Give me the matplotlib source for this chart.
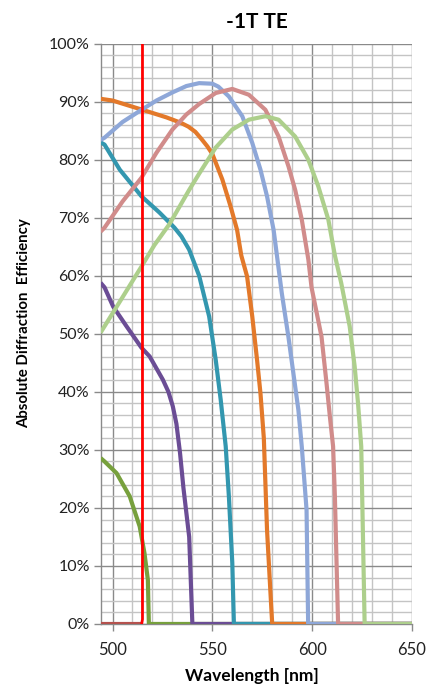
import numpy as np
import matplotlib.pyplot as plt
from matplotlib.ticker import MultipleLocator, FuncFormatter

plt.rcParams['font.family'] = ['Lato', 'DejaVu Sans']

# diffraction efficiency curves (wavelength nm, efficiency %), ordered by cutoff
green_wl = [494, 496, 502, 508.6, 513.6, 516, 517.7, 518.2, 650]
green_eff = [28.6, 28.0, 26.0, 22.0, 16.8, 12.2, 7.6, 0, 0]

purple_wl = [494, 496, 500.3, 507, 514.5, 518.6, 525.2, 528, 530.2, 532,
             533.8, 535.5, 538.4, 540, 650]
purple_eff = [58.8, 58.0, 54.7, 51.3, 47.6, 46.1, 42.1, 40.0, 37.5, 34.5,
              29.5, 23.5, 15.0, 0, 0]

teal_wl = [494, 496, 503.6, 514.5, 523.5, 531, 534.5, 538.4, 543.4, 548.4,
           551.7, 554.2, 556.7, 558.3, 560, 560.8, 650]
teal_eff = [83.0, 82.6, 78.3, 73.7, 70.9, 68.3, 66.8, 64.5, 60.0, 53.0,
            45.5, 38.6, 30.6, 21.9, 10.5, 0, 0]

orange_wl = [494, 500, 515, 527, 534, 538, 541.5, 544.5, 547.5, 550, 555,
             559.1, 562.4, 564.5, 567.4, 570, 572.4, 574.1, 575.8, 577.4,
             579.5, 580, 650]
orange_eff = [90.5, 90.2, 88.6, 87.3, 86.4, 85.7, 84.8, 83.6, 82.3, 81.0, 76.6,
              72.0, 67.9, 63.5, 59.9, 53.0, 45.5, 39.8, 32.0, 16.2, 3.0, 0, 0]

blue_wl = [494, 496, 505, 514.5, 522, 530, 537, 543.4, 550, 553, 558.3, 565,
           570, 574.1, 577.4, 580.7, 584.8, 588.1, 590.6, 593.1, 594.8, 597.2,
           598, 650]
blue_eff = [83.4, 83.8, 86.5, 88.6, 90.2, 91.6, 92.7, 93.2, 93.1, 92.6, 90.9,
            87.5, 82.9, 78.3, 73.7, 67.9, 57.0, 49.5, 43.2, 36.9, 30.6, 19.7,
            0, 0]

pink_wl = [494, 496, 505, 514.5, 522, 530, 537, 543.4, 551.7, 560, 568.3,
           576.6, 583.2, 588.2, 591.5, 594.8, 598.1, 599.7, 604.7, 607.2,
           608.9, 610.5, 611.4, 613, 650]
pink_eff = [67.6, 68.3, 72.8, 76.9, 81.2, 85.2, 87.8, 89.6, 91.5, 92.2, 91.2,
            88.6, 84.0, 78.8, 74.8, 69.7, 62.8, 58.0, 49.5, 41.5, 35.7, 30.6,
            21.9, 0, 0]

lgreen_wl = [494, 496, 505, 514.5, 521, 528.5, 538.4, 543.4, 551.7, 560,
             568.3, 576.6, 583.2, 591.5, 598.1, 603.1, 608.1, 611.4, 614.6,
             618.8, 621.3, 623, 624.6, 625.4, 626.3, 650]
lgreen_eff = [50.2, 51.3, 56.3, 61.6, 65.3, 68.9, 74.8, 77.6, 82.1, 85.2,
              86.9, 87.5, 86.9, 84.0, 80.0, 75.4, 69.7, 63.5, 58.7, 51.3,
              44.4, 38.0, 30.6, 16.2, 0, 0]

base_wl = [494, 514.5]
base_eff = [0, 0]

# design wavelength marker
marker_wl = [514.6, 515, 515]
marker_eff = [0, 0.8, 100]

series = [
    (base_wl, base_eff, '#B5524E'),
    (green_wl, green_eff, '#77A03D'),
    (purple_wl, purple_eff, '#6B4D95'),
    (teal_wl, teal_eff, '#3397AF'),
    (orange_wl, orange_eff, '#E3792A'),
    (blue_wl, blue_eff, '#8EA7D8'),
    (pink_wl, pink_eff, '#D18C8B'),
    (lgreen_wl, lgreen_eff, '#ADCF8C'),
]

fig = plt.figure(figsize=(4.26, 6.9), dpi=100)
ax = fig.add_axes([0.237, 0.0957, 0.730, 0.841])

for i, (wl, eff, col) in enumerate(series):
    ax.plot(wl, eff, color=col, lw=3.0, solid_joinstyle='round',
            solid_capstyle='butt', zorder=3 + i)
ax.plot(marker_wl, marker_eff, color='#FF0000', lw=2.0, zorder=20)

ax.set_xlim(494.2, 650)
ax.set_ylim(0, 100)

ax.xaxis.set_major_locator(MultipleLocator(50))
ax.xaxis.set_minor_locator(MultipleLocator(10))
ax.yaxis.set_major_locator(MultipleLocator(10))
ax.yaxis.set_minor_locator(MultipleLocator(2))
ax.yaxis.set_major_formatter(FuncFormatter(lambda v, p: f'{v:.0f}%'))

ax.grid(which='minor', color='#C4C4C4', lw=1.0, zorder=0)
ax.grid(which='major', color='#8A8A8A', lw=1.0, zorder=1)
ax.set_axisbelow(True)

for side in ['top', 'right']:
    ax.spines[side].set_visible(False)
for side in ['left', 'bottom']:
    ax.spines[side].set_color('#8A8A8A')
    ax.spines[side].set_linewidth(1.0)

ax.tick_params(which='major', direction='out', length=5, width=1,
               color='#8A8A8A', labelcolor='#222222')
ax.tick_params(axis='y', labelsize=11.5, pad=3)
ax.tick_params(axis='x', labelsize=12, pad=8)
ax.tick_params(which='minor', length=0)

ax.set_title('-1T TE', fontsize=15, fontweight='bold', pad=11, x=0.502)
ax.set_xlabel('Wavelength [nm]', fontsize=12.5, fontweight='bold')
ax.xaxis.set_label_coords(0.486, -0.076)
ax.set_ylabel('Absolute Diffraction  Efficiency', fontsize=10.8,
              fontweight='bold')
ax.yaxis.set_label_coords(-0.225, 0.519)

fig.savefig('out.png', dpi=100)
